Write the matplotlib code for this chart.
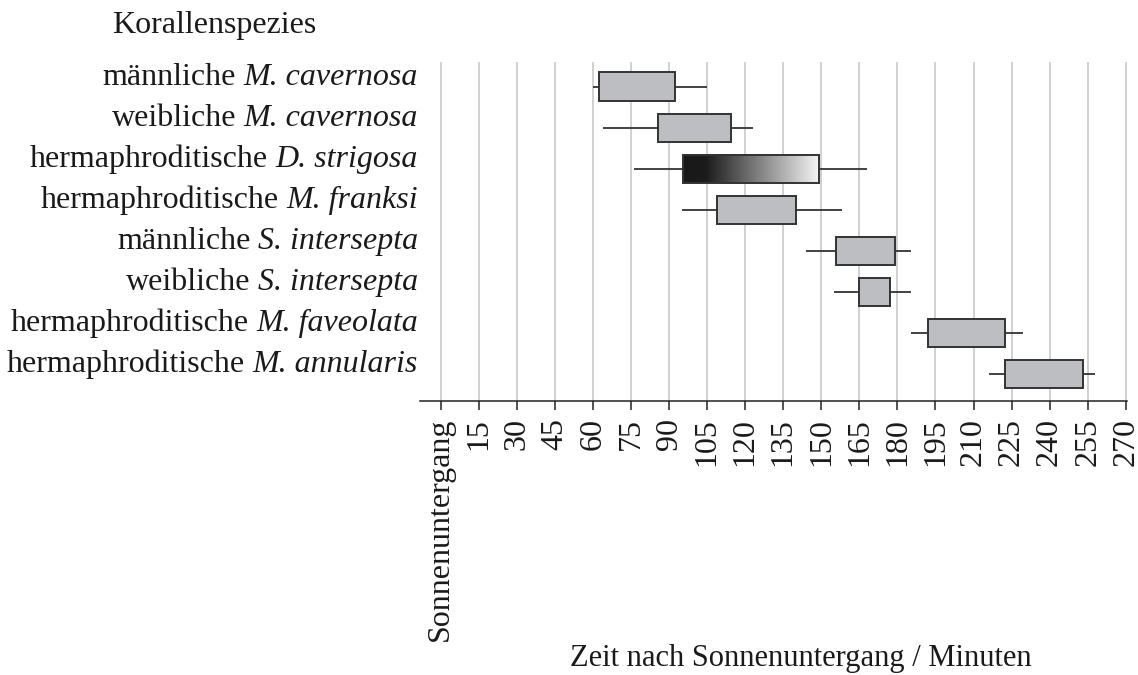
import matplotlib
matplotlib.use("Agg")
import matplotlib.pyplot as plt
import numpy as np
from matplotlib.colors import LinearSegmentedColormap
from matplotlib.patches import Rectangle
from matplotlib.transforms import blended_transform_factory

# ---------------- data ----------------
species_prefix = ["männliche", "weibliche", "hermaphroditische", "hermaphroditische",
                  "männliche", "weibliche", "hermaphroditische", "hermaphroditische"]
species_italic = ["M. cavernosa", "M. cavernosa", "D. strigosa", "M. franksi",
                  "S. intersepta", "S. intersepta", "M. faveolata", "M. annularis"]
whisker_lo = [60, 64, 76, 95, 144, 155, 185.5, 216]
box_lo = [62.5, 85.5, 95.5, 109, 156, 165, 192, 222.5]
box_hi = [92.5, 114.5, 149, 140, 179, 177, 222.5, 253]
whisker_hi = [105, 123, 168, 158, 185.5, 185.5, 229.5, 258]
gradient_row = 2  # D. strigosa drawn with gradient fill

tick_values = list(range(0, 271, 15))
tick_labels = ["Sonnenuntergang"] + [str(v) for v in range(15, 271, 15)]

title_text = "Korallenspezies"
xlabel_text = "Zeit nach Sonnenuntergang / Minuten"

# ---------------- style ----------------
plt.rcParams["font.family"] = ["Liberation Serif", "DejaVu Serif"]
FS = 23
W, H = 1138, 675
fig = plt.figure(figsize=(W / 100, H / 100), dpi=100)

left, right = 420 / W, 1126.5 / W
bottom, top = 1 - 401 / H, 1 - 62 / H
ax = fig.add_axes([left, bottom, right - left, top - bottom])

XLIM = (-8.15, 270.3)
YLIM = (7.66, -0.6)

box_fc = "#bdbec2"
edge_c = "#333333"
h = 0.69

grad_cmap = LinearSegmentedColormap.from_list(
    "grad", [(0.0, "#181818"), (0.17, "#1c1c1c"), (1.0, "#f4f4f4")])

n = len(species_italic)
for i in range(n):
    ax.hlines(i, whisker_lo[i], box_lo[i], color=edge_c, lw=1.3, zorder=2)
    ax.hlines(i, box_hi[i], whisker_hi[i], color=edge_c, lw=1.3, zorder=2)
    if i == gradient_row:
        grad = np.linspace(0, 1, 256).reshape(1, -1)
        ax.imshow(grad, extent=(box_lo[i], box_hi[i], i + h / 2, i - h / 2),
                  cmap=grad_cmap, aspect="auto", zorder=3, interpolation="bilinear")
        ax.add_patch(Rectangle((box_lo[i], i - h / 2), box_hi[i] - box_lo[i], h,
                               fill=False, ec=edge_c, lw=1.4, zorder=4))
    else:
        ax.add_patch(Rectangle((box_lo[i], i - h / 2), box_hi[i] - box_lo[i], h,
                               fc=box_fc, ec=edge_c, lw=1.4, zorder=3))

ax.set_xlim(*XLIM)
ax.set_ylim(*YLIM)
ax.set_aspect("auto")

for s in ["top", "right", "left"]:
    ax.spines[s].set_visible(False)
ax.spines["bottom"].set_linewidth(1.1)
ax.spines["bottom"].set_color("#222222")

ax.set_xticks(tick_values)
ax.set_xticklabels(tick_labels, rotation=90, fontsize=FS, va="top", color="#1a1a1a")
ax.tick_params(axis="x", direction="out", length=6.5, width=1.1, pad=5.5, color="#222222")
ax.set_yticks([])
ax.grid(axis="x", color="#c8c8c8", lw=1.2)
ax.set_axisbelow(True)

# y labels: roman prefix + italic species name
trans = blended_transform_factory(fig.transFigure, ax.transData)
for i in range(n):
    t1 = ax.text(418 / W, i - 0.05, species_italic[i], transform=trans,
                 ha="right", va="baseline", fontsize=FS, style="italic",
                 color="#1a1a1a", clip_on=False)
    ax.annotate(species_prefix[i], xy=(0, 0), xycoords=t1,
                xytext=(-5.5, 0), textcoords="offset points",
                ha="right", va="bottom", fontsize=FS, color="#1a1a1a",
                annotation_clip=False)

fig.text(214 / W, 1 - 33 / H, title_text, ha="center", va="baseline",
         fontsize=FS, color="#1a1a1a")
fig.text(801 / W, 1 - 666 / H, xlabel_text, ha="center", va="baseline",
         fontsize=22, color="#1a1a1a")

fig.savefig("out.png", dpi=100)
